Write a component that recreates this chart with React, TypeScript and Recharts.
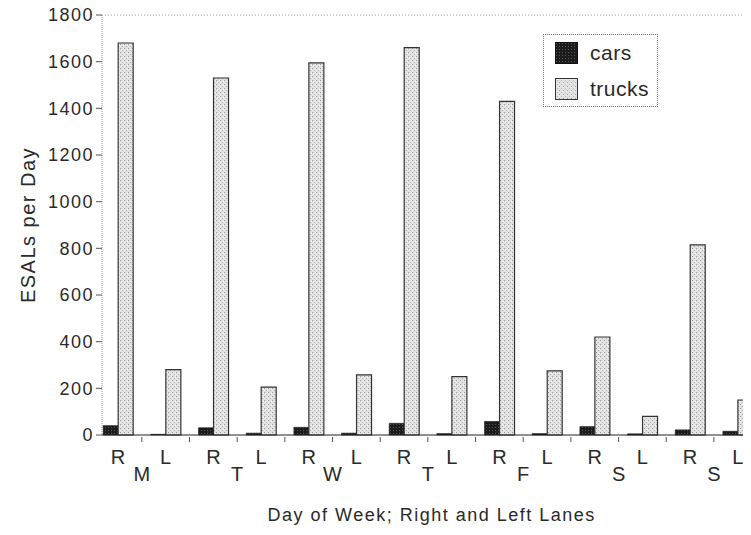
import { BarChart, Bar, XAxis, YAxis, Legend, ReferenceLine } from 'recharts'

// lanes for each day, right lane then left lane
const lanes = ['R', 'L', 'R', 'L', 'R', 'L', 'R', 'L', 'R', 'L', 'R', 'L', 'R', 'L']
const days = ['M', 'T', 'W', 'T', 'F', 'S', 'S']
const cars = [40, 3, 31, 8, 33, 8, 50, 6, 58, 6, 36, 5, 22, 16]
const trucks = [1680, 280, 1530, 205, 1595, 258, 1660, 250, 1430, 275, 420, 80, 815, 150]
const yTicks = [0, 200, 400, 600, 800, 1000, 1200, 1400, 1600, 1800]

const data = lanes.map((lane, i) => ({ idx: i, lane, cars: cars[i], trucks: trucks[i] }))
const xTicks = lanes.flatMap((_, i) => [i, i + 0.5])

const FONT = '"Liberation Sans", Arial, Helvetica, sans-serif'
const INK = '#2a2a2a'

function LaneTick({ x, y, payload }: any) {
  const v = payload.value as number
  if (Number.isInteger(v)) {
    return (
      <text x={x} y={y + 27} textAnchor="middle" fill={INK} fontSize={20} fontFamily={FONT}>
        {lanes[v]}
      </text>
    )
  }
  const i = Math.floor(v)
  return (
    <g>
      <line x1={x} x2={x} y1={y} y2={y + 5} stroke="#555" />
      {i % 2 === 0 && (
        <text x={x} y={y + 44} textAnchor="middle" fill={INK} fontSize={20} fontFamily={FONT}>
          {days[i / 2]}
        </text>
      )}
    </g>
  )
}

function Swatch({ fill, stroke }: { fill: string; stroke: string }) {
  return (
    <svg width={23} height={22} style={{ display: 'block', flex: 'none' }}>
      <rect x={0.5} y={0.5} width={22} height={21} fill={fill} stroke={stroke} />
    </svg>
  )
}

function LegendBox() {
  const row = { display: 'flex', alignItems: 'center', gap: 12, height: 22 }
  return (
    <div
      style={{
        boxSizing: 'border-box',
        border: '1px dotted #777',
        padding: '7px 0 0 11px',
        width: 115,
        height: 73,
        fontFamily: FONT,
        fontSize: 21,
        color: INK,
        letterSpacing: 0.5,
        background: '#fff',
      }}
    >
      <div style={{ ...row, marginBottom: 14 }}>
        <Swatch fill="url(#carsPat)" stroke="#111" />
        <span>cars</span>
      </div>
      <div style={row}>
        <Swatch fill="url(#trucksPat)" stroke="#333" />
        <span>trucks</span>
      </div>
    </div>
  )
}

export default function App() {
  return (
    <div style={{ width: 743, height: 527, marginTop: -8, overflow: 'hidden', position: 'relative' }}>
      <BarChart
        width={790}
        height={527}
        data={data}
        barGap={0}
        margin={{ top: 15, right: 12.6, bottom: 32, left: 14 }}
      >
        <defs>
          <pattern id="trucksPat" width={4} height={4} patternUnits="userSpaceOnUse">
            <rect width={4} height={4} fill="#e2e2e2" />
            <rect x={0} y={0} width={1} height={1} fill="#9a9a9a" />
            <rect x={2} y={2} width={1} height={1} fill="#b0b0b0" />
            <rect x={3} y={1} width={1} height={1} fill="#f6f6f6" />
          </pattern>
          <pattern id="carsPat" width={3} height={3} patternUnits="userSpaceOnUse">
            <rect width={3} height={3} fill="#1c1c1c" />
            <rect x={1} y={1} width={1} height={1} fill="#555" />
          </pattern>
        </defs>
        <ReferenceLine y={1800} stroke="#999" strokeDasharray="1 2" />
        <XAxis
          type="number"
          dataKey="idx"
          domain={[-0.336, 14]}
          allowDataOverflow
          ticks={xTicks}
          interval={0}
          tickSize={0}
          tickLine={false}
          height={60}
          axisLine={{ stroke: '#222', strokeWidth: 1.2 }}
          tick={<LaneTick />}
          label={{
            value: 'Day of Week; Right and Left Lanes',
            position: 'insideBottom',
            offset: -26,
            fill: INK,
            fontSize: 18,
            fontFamily: FONT,
            letterSpacing: 1.5,
            dx: -12,
          }}
        />
        <YAxis
          domain={[0, 1800]}
          ticks={yTicks}
          interval={0}
          width={80}
          tickSize={6}
          axisLine={{ stroke: '#999', strokeDasharray: '1 1' }}
          tickLine={{ stroke: '#555' }}
          tick={{ fill: INK, fontSize: 18, fontFamily: FONT, letterSpacing: 1.5 }}
          label={{
            value: 'ESALs per Day',
            angle: -90,
            position: 'insideLeft',
            offset: 6,
            fill: INK,
            fontSize: 20,
            fontFamily: FONT,
            letterSpacing: 1.5,
            style: { textAnchor: 'middle' },
          }}
        />
        <Legend
          layout="vertical"
          align="center"
          verticalAlign="middle"
          content={<LegendBox />}
          wrapperStyle={{ left: 535, top: 34, width: 'auto', height: 'auto' }}
        />
        <Bar dataKey="cars" name="cars" barSize={15} fill="url(#carsPat)" stroke="#111" strokeWidth={0.6} isAnimationActive={false} />
        <Bar dataKey="trucks" name="trucks" barSize={15} fill="url(#trucksPat)" stroke="#333" strokeWidth={1.2} isAnimationActive={false} />
      </BarChart>
    </div>
  )
}
